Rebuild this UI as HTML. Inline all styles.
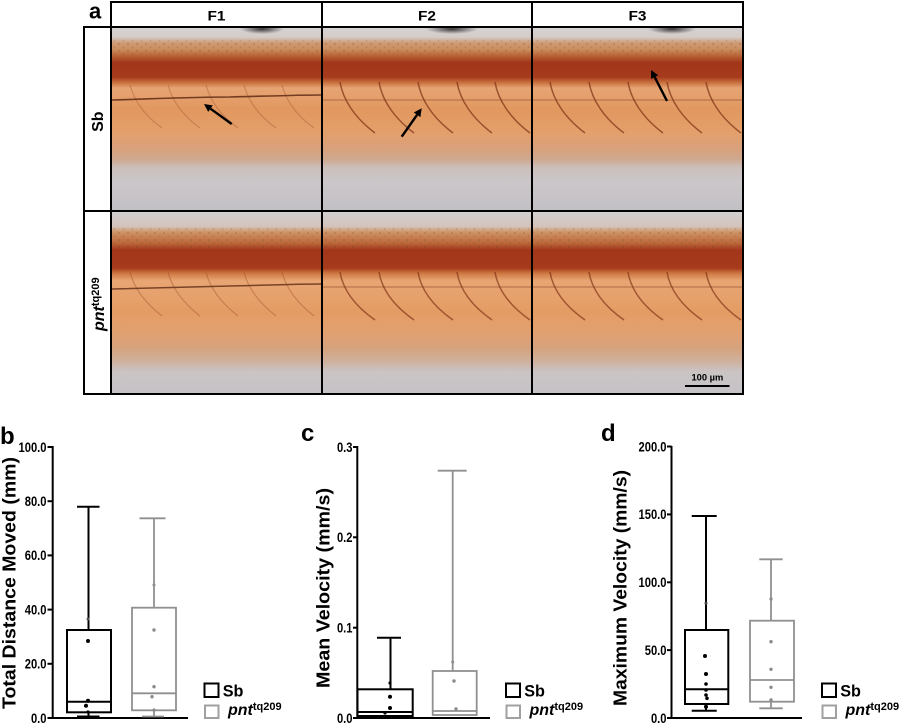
<!DOCTYPE html>
<html>
<head>
<meta charset="utf-8">
<style>
  html,body{margin:0;padding:0;background:#fff;}
  svg{display:block;}
  text{font-family:"Liberation Sans",Arial,sans-serif;}
</style>
</head>
<body>
<svg width="900" height="725" viewBox="0 0 900 725" xmlns="http://www.w3.org/2000/svg">
  <defs>
    <linearGradient id="g1" x1="0" y1="0" x2="0" y2="1">
      <stop offset="0" stop-color="#d6d2d3"/>
      <stop offset="0.05" stop-color="#d4ccc8"/>
      <stop offset="0.08" stop-color="#cf9c78"/>
      <stop offset="0.12" stop-color="#c98b5a"/>
      <stop offset="0.16" stop-color="#b55a30"/>
      <stop offset="0.19" stop-color="#a2361a"/>
      <stop offset="0.27" stop-color="#a63a1c"/>
      <stop offset="0.30" stop-color="#c9703e"/>
      <stop offset="0.33" stop-color="#e6a474"/>
      <stop offset="0.45" stop-color="#e2985f"/>
      <stop offset="0.58" stop-color="#e3a06c"/>
      <stop offset="0.66" stop-color="#d9a07a"/>
      <stop offset="0.72" stop-color="#cfa88e"/>
      <stop offset="0.77" stop-color="#cbc0bc"/>
      <stop offset="0.85" stop-color="#cbc7c9"/>
      <stop offset="1" stop-color="#c3c0c5"/>
    </linearGradient>
    <linearGradient id="g2" x1="0" y1="0" x2="0" y2="1">
      <stop offset="0" stop-color="#d2cfd1"/>
      <stop offset="0.08" stop-color="#d4c4bc"/>
      <stop offset="0.11" stop-color="#cf9466"/>
      <stop offset="0.17" stop-color="#bd6a3c"/>
      <stop offset="0.21" stop-color="#a2361a"/>
      <stop offset="0.31" stop-color="#a63a1c"/>
      <stop offset="0.34" stop-color="#cf7a44"/>
      <stop offset="0.38" stop-color="#e8a674"/>
      <stop offset="0.55" stop-color="#e49c64"/>
      <stop offset="0.66" stop-color="#e2a070"/>
      <stop offset="0.75" stop-color="#d6a27c"/>
      <stop offset="0.83" stop-color="#cfb2a0"/>
      <stop offset="0.88" stop-color="#cac4c4"/>
      <stop offset="1" stop-color="#c6c3c7"/>
    </linearGradient>
    <radialGradient id="blob" cx="0.5" cy="0.5" r="0.5">
      <stop offset="0" stop-color="#2a2626" stop-opacity="0.9"/>
      <stop offset="1" stop-color="#2a2626" stop-opacity="0"/>
    </radialGradient>
    <pattern id="speck" width="9" height="7" patternUnits="userSpaceOnUse">
      <circle cx="2" cy="2" r="0.9" fill="#6a4630" opacity="0.35"/>
      <circle cx="6.5" cy="5" r="0.8" fill="#6a4630" opacity="0.3"/>
    </pattern>
    <clipPath id="c11"><rect x="112" y="28" width="209" height="182"/></clipPath>
    <clipPath id="c12"><rect x="323" y="28" width="208" height="182"/></clipPath>
    <clipPath id="c13"><rect x="533" y="28" width="209" height="182"/></clipPath>
    <clipPath id="c21"><rect x="112" y="212" width="209" height="181"/></clipPath>
    <clipPath id="c22"><rect x="323" y="212" width="208" height="181"/></clipPath>
    <clipPath id="c23"><rect x="533" y="212" width="209" height="181"/></clipPath>
  </defs>

  <!-- ================= Panel a ================= -->
  <text x="89" y="18.5" font-size="22" font-weight="bold">a</text>

  <!-- Row 1 cells -->
  <g clip-path="url(#c11)">
    <rect x="112" y="28" width="209" height="182" fill="url(#g1)"/>
    <rect x="112" y="40" width="209" height="18" fill="url(#speck)"/>
    <ellipse cx="262" cy="29" rx="22" ry="5" fill="url(#blob)"/>
    <g stroke="#9a4a26" stroke-width="1.2" fill="none" opacity="0.35">
      <path d="M130,85 C134,100 144,115 162,128"/>
      <path d="M168,85 C172,100 182,115 200,128"/>
      <path d="M206,85 C210,100 220,115 238,128"/>
      <path d="M244,85 C248,100 258,115 276,128"/>
      <path d="M282,85 C286,100 296,115 314,128"/>
    </g>
    <path d="M112,100 C150,99 190,97 230,97 C270,96 300,95 321,95" stroke="#5e2a14" stroke-width="1.6" fill="none" opacity="0.85"/>
    <line x1="231.7" y1="124" x2="210.5" y2="108.7" stroke="#000" stroke-width="2.4"/>
    <polygon points="204,104 212.8,105.4 208.2,111.9" fill="#000"/>
  </g>
  <g clip-path="url(#c12)">
    <rect x="323" y="28" width="208" height="182" fill="url(#g1)"/>
    <rect x="323" y="40" width="208" height="18" fill="url(#speck)"/>
    <ellipse cx="452" cy="29" rx="26" ry="5" fill="url(#blob)"/>
    <path d="M323,100 L531,100" stroke="#a0603a" stroke-width="2" opacity="0.4"/>
    <g stroke="#7e3014" stroke-width="1.5" fill="none" opacity="0.7">
      <path d="M340,82 C343,100 355,118 375,133"/>
      <path d="M379,82 C382,100 394,118 414,133"/>
      <path d="M418,82 C421,100 433,118 453,133"/>
      <path d="M457,82 C460,100 472,118 492,133"/>
      <path d="M495,82 C498,100 510,118 530,133"/>
    </g>
    <line x1="401.7" y1="136.7" x2="417.1" y2="114.8" stroke="#000" stroke-width="2.4"/>
    <polygon points="421.7,108.3 420.4,117.1 413.8,112.5" fill="#000"/>
  </g>
  <g clip-path="url(#c13)">
    <rect x="533" y="28" width="209" height="182" fill="url(#g1)"/>
    <rect x="533" y="40" width="209" height="18" fill="url(#speck)"/>
    <ellipse cx="672" cy="29" rx="24" ry="5" fill="url(#blob)"/>
    <path d="M533,100 L742,100" stroke="#a0603a" stroke-width="2" opacity="0.4"/>
    <g stroke="#7e3014" stroke-width="1.5" fill="none" opacity="0.7">
      <path d="M550,82 C553,100 565,118 585,133"/>
      <path d="M589,82 C592,100 604,118 624,133"/>
      <path d="M628,82 C631,100 643,118 663,133"/>
      <path d="M667,82 C670,100 682,118 702,133"/>
      <path d="M706,82 C709,100 721,118 741,133"/>
    </g>
    <line x1="667" y1="101" x2="654.7" y2="77.1" stroke="#000" stroke-width="2.4"/>
    <polygon points="651,70 658.2,75.3 651.1,78.9" fill="#000"/>
  </g>

  <!-- Row 2 cells -->
  <g clip-path="url(#c21)">
    <rect x="112" y="212" width="209" height="181" fill="url(#g2)"/>
    <rect x="112" y="228" width="209" height="20" fill="url(#speck)"/>
    <g stroke="#9a4a26" stroke-width="1.2" fill="none" opacity="0.4">
      <path d="M130,272 C134,288 144,302 162,316"/>
      <path d="M168,272 C172,288 182,302 200,316"/>
      <path d="M206,272 C210,288 220,302 238,316"/>
      <path d="M244,272 C248,288 258,302 276,316"/>
      <path d="M282,272 C286,288 296,302 314,316"/>
    </g>
    <path d="M112,289 C150,288 190,287 230,286 C270,285 300,284 321,284" stroke="#5e2a14" stroke-width="1.5" fill="none" opacity="0.8"/>
  </g>
  <g clip-path="url(#c22)">
    <rect x="323" y="212" width="208" height="181" fill="url(#g2)"/>
    <rect x="323" y="228" width="208" height="20" fill="url(#speck)"/>
    <path d="M323,287 L531,287" stroke="#a0603a" stroke-width="2" opacity="0.4"/>
    <g stroke="#7e3014" stroke-width="1.5" fill="none" opacity="0.65">
      <path d="M340,272 C343,290 355,306 375,320"/>
      <path d="M379,272 C382,290 394,306 414,320"/>
      <path d="M418,272 C421,290 433,306 453,320"/>
      <path d="M457,272 C460,290 472,306 492,320"/>
      <path d="M495,272 C498,290 510,306 530,320"/>
    </g>
  </g>
  <g clip-path="url(#c23)">
    <rect x="533" y="212" width="209" height="181" fill="url(#g2)"/>
    <rect x="533" y="228" width="209" height="20" fill="url(#speck)"/>
    <path d="M533,287 L742,287" stroke="#a0603a" stroke-width="2" opacity="0.4"/>
    <g stroke="#7e3014" stroke-width="1.5" fill="none" opacity="0.65">
      <path d="M550,272 C553,290 565,306 585,320"/>
      <path d="M589,272 C592,290 604,306 624,320"/>
      <path d="M628,272 C631,290 643,306 663,320"/>
      <path d="M667,272 C670,290 682,306 702,320"/>
      <path d="M706,272 C709,290 721,306 741,320"/>
    </g>
    <text x="691.5" y="380.5" font-size="9.3" font-weight="bold">100 µm</text>
    <line x1="685" y1="386" x2="729.5" y2="386" stroke="#000" stroke-width="2"/>
  </g>

  <!-- grid borders -->
  <g stroke="#000" stroke-width="2" fill="none">
    <line x1="111" y1="2" x2="743" y2="2"/>
    <line x1="84" y1="27" x2="743" y2="27"/>
    <line x1="84" y1="211" x2="743" y2="211"/>
    <line x1="84" y1="394" x2="743" y2="394"/>
    <line x1="84" y1="26" x2="84" y2="395"/>
    <line x1="111" y1="1" x2="111" y2="395"/>
    <line x1="322" y1="1" x2="322" y2="395"/>
    <line x1="532" y1="1" x2="532" y2="395"/>
    <line x1="743" y1="1" x2="743" y2="395"/>
  </g>
  <!-- headers -->
  <g font-size="14" font-weight="bold" text-anchor="middle">
    <text x="216.5" y="20.5" textLength="18" lengthAdjust="spacingAndGlyphs">F1</text>
    <text x="427" y="20.5" textLength="18" lengthAdjust="spacingAndGlyphs">F2</text>
    <text x="637.5" y="20.5" textLength="18" lengthAdjust="spacingAndGlyphs">F3</text>
  </g>
  <text transform="translate(103,121.7) rotate(-90)" font-size="16" font-weight="bold" text-anchor="middle">Sb</text>
  <text transform="translate(104,331) rotate(-90)" font-size="16" font-weight="bold"><tspan font-style="italic">pnt</tspan><tspan font-size="11" dy="-5">tq209</tspan></text>

  <!-- ================= Panel b ================= -->
  <text x="0" y="444" font-size="24" font-weight="bold">b</text>
  <text transform="translate(15.5,583) rotate(-90)" font-size="18.5" font-weight="bold" text-anchor="middle" textLength="252" lengthAdjust="spacingAndGlyphs">Total Distance Moved (mm)</text>
  <g stroke="#000" stroke-width="2">
    <line x1="52.7" y1="446" x2="52.7" y2="719"/>
    <line x1="51.7" y1="718" x2="188" y2="718"/>
    <line x1="47.5" y1="447" x2="52.7" y2="447"/>
    <line x1="47.5" y1="501.2" x2="52.7" y2="501.2"/>
    <line x1="47.5" y1="555.4" x2="52.7" y2="555.4"/>
    <line x1="47.5" y1="609.6" x2="52.7" y2="609.6"/>
    <line x1="47.5" y1="663.8" x2="52.7" y2="663.8"/>
    <line x1="47.5" y1="718" x2="52.7" y2="718"/>
  </g>
  <g font-size="14" font-weight="bold" text-anchor="end">
    <text transform="translate(46.5,451.8) scale(0.8,1)">100.0</text>
    <text transform="translate(46.5,506) scale(0.8,1)">80.0</text>
    <text transform="translate(46.5,560.2) scale(0.8,1)">60.0</text>
    <text transform="translate(46.5,614.4) scale(0.8,1)">40.0</text>
    <text transform="translate(46.5,668.6) scale(0.8,1)">20.0</text>
    <text transform="translate(46.5,722.8) scale(0.8,1)">0.0</text>
  </g>
  <!-- Sb box b -->
  <g stroke="#000" stroke-width="2" fill="none">
    <line x1="88.5" y1="506.7" x2="88.5" y2="630"/>
    <line x1="77" y1="506.7" x2="99.5" y2="506.7"/>
    <rect x="67" y="630" width="44" height="82.3"/>
    <line x1="67" y1="701.7" x2="111" y2="701.7"/>
    <line x1="88.5" y1="712.3" x2="88.5" y2="716.5"/>
    <line x1="77" y1="716.5" x2="99.5" y2="716.5"/>
  </g>
  <g fill="#000">
    <circle cx="88" cy="641" r="2"/>
    <circle cx="88" cy="619" r="1.5" fill="#555"/>
    <circle cx="88" cy="700.7" r="2"/>
    <circle cx="86" cy="705.7" r="2"/>
    <circle cx="88" cy="712" r="1.6"/>
  </g>
  <!-- pnt box b -->
  <g stroke="#909090" stroke-width="1.8" fill="none">
    <line x1="154" y1="518.3" x2="154" y2="607.7"/>
    <line x1="139.5" y1="518.3" x2="165.5" y2="518.3"/>
    <rect x="132" y="607.7" width="44" height="102.6"/>
    <line x1="132" y1="693.3" x2="176" y2="693.3"/>
    <line x1="154" y1="710.3" x2="154" y2="716.5"/>
    <line x1="142" y1="716.5" x2="164" y2="716.5"/>
  </g>
  <g fill="#8a8a8a">
    <circle cx="154" cy="585" r="1.5"/>
    <circle cx="154" cy="630" r="1.7"/>
    <circle cx="154" cy="686.7" r="1.7"/>
    <circle cx="152" cy="696.7" r="1.7"/>
    <circle cx="154" cy="710" r="1.6"/>
  </g>

  <!-- ================= Panel c ================= -->
  <text x="301" y="441" font-size="24" font-weight="bold">c</text>
  <text transform="translate(329.5,588) rotate(-90)" font-size="18.5" font-weight="bold" text-anchor="middle" textLength="200" lengthAdjust="spacingAndGlyphs">Mean Velocity (mm/s)</text>
  <g stroke="#000" stroke-width="2">
    <line x1="357.3" y1="446" x2="357.3" y2="719"/>
    <line x1="356.3" y1="718" x2="490" y2="718"/>
    <line x1="353" y1="447" x2="357.3" y2="447"/>
    <line x1="353" y1="537.3" x2="357.3" y2="537.3"/>
    <line x1="353" y1="627.7" x2="357.3" y2="627.7"/>
    <line x1="353" y1="718" x2="357.3" y2="718"/>
  </g>
  <g font-size="14" font-weight="bold" text-anchor="end">
    <text transform="translate(352.5,451.8) scale(0.8,1)">0.3</text>
    <text transform="translate(352.5,542.1) scale(0.8,1)">0.2</text>
    <text transform="translate(352.5,632.5) scale(0.8,1)">0.1</text>
    <text transform="translate(352.5,722.8) scale(0.8,1)">0.0</text>
  </g>
  <g stroke="#000" stroke-width="2" fill="none">
    <line x1="390.5" y1="637.7" x2="390.5" y2="689.3"/>
    <line x1="377" y1="637.7" x2="401" y2="637.7"/>
    <rect x="357.5" y="689.3" width="55.2" height="26.7"/>
    <line x1="357.5" y1="712" x2="412.7" y2="712"/>
  </g>
  <g fill="#000">
    <circle cx="390" cy="683" r="1.6"/>
    <circle cx="390" cy="696.7" r="2"/>
    <circle cx="390" cy="708" r="2"/>
    <circle cx="385" cy="713" r="1.6"/>
  </g>
  <g stroke="#909090" stroke-width="1.8" fill="none">
    <line x1="452.7" y1="470.7" x2="452.7" y2="671"/>
    <line x1="437.7" y1="470.7" x2="466.7" y2="470.7"/>
    <rect x="432.7" y="671" width="44" height="44"/>
    <line x1="432.7" y1="711" x2="476.7" y2="711"/>
  </g>
  <g fill="#8a8a8a">
    <circle cx="452.7" cy="662" r="1.5"/>
    <circle cx="454" cy="681" r="1.7"/>
    <circle cx="456" cy="709" r="1.7"/>
  </g>

  <!-- ================= Panel d ================= -->
  <text x="601" y="441" font-size="24" font-weight="bold">d</text>
  <text transform="translate(626.5,588) rotate(-90)" font-size="18.5" font-weight="bold" text-anchor="middle" textLength="236" lengthAdjust="spacingAndGlyphs">Maximum Velocity (mm/s)</text>
  <g stroke="#000" stroke-width="2">
    <line x1="671.5" y1="446" x2="671.5" y2="719"/>
    <line x1="670.5" y1="718" x2="802" y2="718"/>
    <line x1="667" y1="446.5" x2="671.5" y2="446.5"/>
    <line x1="667" y1="514.4" x2="671.5" y2="514.4"/>
    <line x1="667" y1="582.3" x2="671.5" y2="582.3"/>
    <line x1="667" y1="650.1" x2="671.5" y2="650.1"/>
    <line x1="667" y1="718" x2="671.5" y2="718"/>
  </g>
  <g font-size="14" font-weight="bold" text-anchor="end">
    <text transform="translate(666.5,451.3) scale(0.8,1)">200.0</text>
    <text transform="translate(666.5,519.2) scale(0.8,1)">150.0</text>
    <text transform="translate(666.5,587.1) scale(0.8,1)">100.0</text>
    <text transform="translate(666.5,654.9) scale(0.8,1)">50.0</text>
    <text transform="translate(666.5,722.8) scale(0.8,1)">0.0</text>
  </g>
  <g stroke="#000" stroke-width="2" fill="none">
    <line x1="706" y1="516" x2="706" y2="630"/>
    <line x1="691.7" y1="516" x2="716.7" y2="516"/>
    <rect x="685" y="630" width="43.3" height="74"/>
    <line x1="685" y1="689.3" x2="728.3" y2="689.3"/>
    <line x1="706" y1="704" x2="706" y2="710.7"/>
    <line x1="691.7" y1="710.7" x2="716.7" y2="710.7"/>
  </g>
  <g fill="#000">
    <circle cx="706" cy="603.3" r="1.5" fill="#444"/>
    <circle cx="705" cy="656" r="2"/>
    <circle cx="706" cy="674" r="2"/>
    <circle cx="706" cy="684" r="1.8"/>
    <circle cx="706" cy="690" r="1.8"/>
    <circle cx="706" cy="695" r="1.8"/>
    <circle cx="707" cy="698.3" r="1.8"/>
    <circle cx="706" cy="706.7" r="2"/>
  </g>
  <g stroke="#909090" stroke-width="1.8" fill="none">
    <line x1="771" y1="559.3" x2="771" y2="620.7"/>
    <line x1="759.3" y1="559.3" x2="782.7" y2="559.3"/>
    <rect x="750" y="620.7" width="44" height="81"/>
    <line x1="750" y1="680" x2="794" y2="680"/>
    <line x1="771" y1="701.7" x2="771" y2="708.3"/>
    <line x1="759.3" y1="708.3" x2="782.7" y2="708.3"/>
  </g>
  <g fill="#8a8a8a">
    <circle cx="771" cy="599" r="1.6"/>
    <circle cx="771" cy="641.7" r="1.7"/>
    <circle cx="771" cy="669.3" r="1.7"/>
    <circle cx="771" cy="687.3" r="1.7"/>
    <circle cx="771" cy="700" r="1.7"/>
  </g>

  <!-- ================= Legends ================= -->
  <g>
    <rect x="204.5" y="683.5" width="14" height="13.5" fill="none" stroke="#000" stroke-width="2"/>
    <text x="222.7" y="696.7" font-size="17" font-weight="bold" textLength="20.7" lengthAdjust="spacingAndGlyphs">Sb</text>
    <rect x="205" y="705.5" width="13.5" height="12.5" fill="none" stroke="#a0a0a0" stroke-width="2"/>
    <text x="228" y="715" font-size="16" font-weight="bold"><tspan font-style="italic">pnt</tspan><tspan font-size="11" dy="-5">tq209</tspan></text>
  </g>
  <g transform="translate(301.5,0)">
    <rect x="204.5" y="683.5" width="14" height="13.5" fill="none" stroke="#000" stroke-width="2"/>
    <text x="222.7" y="696.7" font-size="17" font-weight="bold" textLength="20.7" lengthAdjust="spacingAndGlyphs">Sb</text>
    <rect x="205" y="705.5" width="13.5" height="12.5" fill="none" stroke="#a0a0a0" stroke-width="2"/>
    <text x="228" y="715" font-size="16" font-weight="bold"><tspan font-style="italic">pnt</tspan><tspan font-size="11" dy="-5">tq209</tspan></text>
  </g>
  <g transform="translate(617.5,0)">
    <rect x="204.5" y="683.5" width="14" height="13.5" fill="none" stroke="#000" stroke-width="2"/>
    <text x="222.7" y="696.7" font-size="17" font-weight="bold" textLength="20.7" lengthAdjust="spacingAndGlyphs">Sb</text>
    <rect x="205" y="705.5" width="13.5" height="12.5" fill="none" stroke="#a0a0a0" stroke-width="2"/>
    <text x="228" y="715" font-size="16" font-weight="bold"><tspan font-style="italic">pnt</tspan><tspan font-size="11" dy="-5">tq209</tspan></text>
  </g>
</svg>
</body>
</html>
